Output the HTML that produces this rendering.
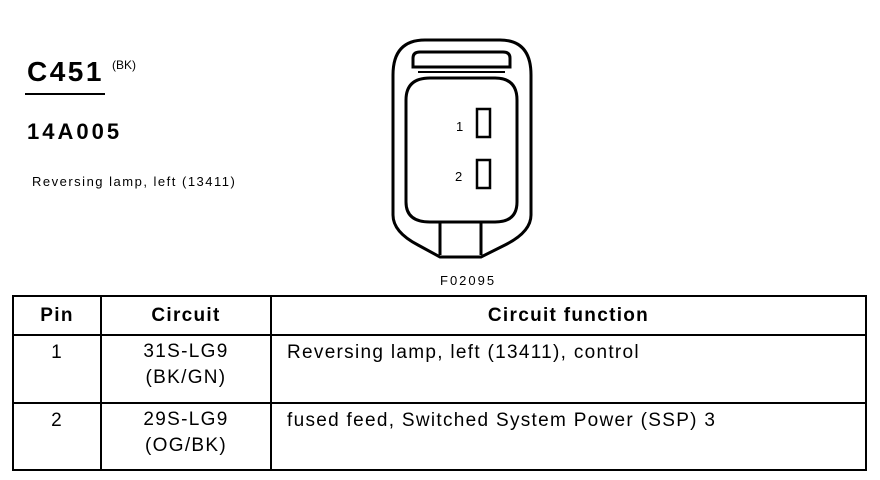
<!DOCTYPE html>
<html><head><style>
body{margin:0;width:880px;height:480px;background:#fff;position:relative;font-family:"Liberation Sans",sans-serif;color:#000;overflow:hidden}
.a{position:absolute;white-space:nowrap}
table{position:absolute;left:12px;top:295px;width:855px;border-collapse:collapse}
td{border:2px solid #000;font-size:19px;letter-spacing:1.3px;vertical-align:top;padding:0}
</style></head><body>
<div class="a" style="left:27px;top:56px;font-size:28px;font-weight:bold;letter-spacing:2.5px">C451</div>
<div class="a" style="left:112px;top:58px;font-size:12px">(BK)</div>
<div class="a" style="left:25px;top:93px;width:80px;height:2px;background:#000"></div>
<div class="a" style="left:27px;top:119px;font-size:22px;font-weight:bold;letter-spacing:3px">14A005</div>
<div class="a" style="left:32px;top:174px;font-size:13px;letter-spacing:1.5px">Reversing lamp, left (13411)</div>
<svg class="a" style="left:0;top:0" width="880" height="295">
<g fill="none" stroke="#000" stroke-width="3">
<path d="M425,40 H500 Q531,40 531,75 V215 Q531,232 505,245 L481,257 H440 L418,245 Q393,232 393,215 V75 Q393,40 425,40 Z"/>
<path d="M413,67 V58 Q413,52 420,52 H503 Q510,52 510,58 V67 Z"/>
<path d="M430,78 H495 Q517,78 517,100 V202 Q517,222 495,222 H430 Q406,222 406,202 V100 Q406,78 430,78 Z"/>
<path d="M440,222 V255 M481,222 V255"/>
<path d="M418,72 H505" stroke-width="2"/>
<rect x="477" y="109" width="13" height="28" stroke-width="2.5"/>
<rect x="477" y="160" width="13" height="28" stroke-width="2.5"/>
</g>
<text x="456" y="131" font-size="13" font-family="Liberation Sans">1</text>
<text x="455" y="181" font-size="13" font-family="Liberation Sans">2</text>
<text x="440" y="285" font-size="13" letter-spacing="2" font-family="Liberation Sans">F02095</text>
</svg>
<table>
<tr style="height:39px;font-weight:bold"><td style="width:86px;text-align:center;vertical-align:middle">Pin</td><td style="width:168px;text-align:center;vertical-align:middle">Circuit</td><td style="text-align:center;vertical-align:middle">Circuit function</td></tr>
<tr style="height:68px"><td style="text-align:center;padding-top:6px">1</td><td style="text-align:center;line-height:26px;padding-top:3px">31S-LG9<br>(BK/GN)</td><td style="padding:6px 0 0 15px">Reversing lamp, left (13411), control</td></tr>
<tr style="height:67px"><td style="text-align:center;padding-top:6px">2</td><td style="text-align:center;line-height:26px;padding-top:3px">29S-LG9<br>(OG/BK)</td><td style="padding:6px 0 0 15px">fused feed, Switched System Power (SSP) 3</td></tr>
</table>
</body></html>
